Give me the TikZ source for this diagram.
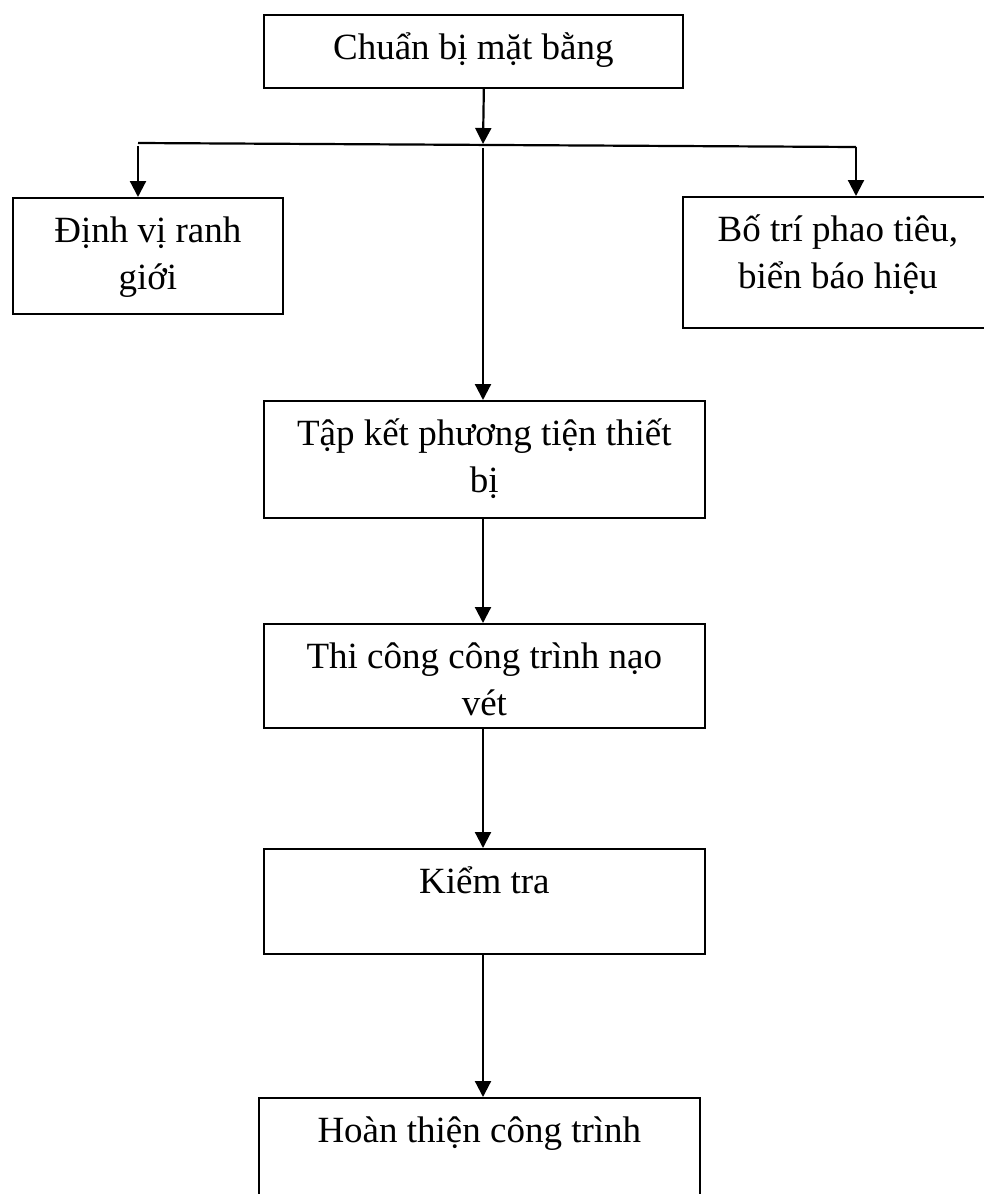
\documentclass[tikz,border=0pt]{standalone}
\usepackage{fontspec}
\setmainfont{Liberation Serif}
\usetikzlibrary{arrows.meta}

\newcommand{\steptext}[3]{\parbox[c][#2][t]{#1}{\centering\rule{0pt}{45pt}#3}}

\begin{document}
\begin{tikzpicture}[x=1pt, y=-1pt,
    stepbox/.style={draw, line width=1.7pt, inner sep=0pt, anchor=north west,
      font=\fontsize{37}{47}\selectfont},
    link/.style={-{Triangle[width=16pt,length=16pt]}, line width=2.2pt}]
  \clip (0,0) rectangle (984,1194);
  % the steps
  \node[stepbox] (cb) at (263,14) {\steptext{419pt}{73pt}{Chuẩn bị mặt bằng}};
  \node[stepbox] (dv) at (12,197) {\steptext{270pt}{116pt}{Định vị ranh\\giới}};
  \node[stepbox] (bt) at (682,196) {\steptext{310pt}{131pt}{Bố trí phao tiêu,\\biển báo hiệu}};
  \node[stepbox] (tk) at (263,400) {\steptext{441pt}{117pt}{Tập kết phương tiện thiết\\bị}};
  \node[stepbox] (tc) at (263,623) {\steptext{441pt}{104pt}{Thi công công trình nạo\\vét}};
  \node[stepbox] (kt) at (263,848) {\steptext{441pt}{105pt}{Kiểm tra}};
  \node[stepbox] (ht) at (258,1097) {\steptext{441pt}{133pt}{Hoàn thiện công trình}};
  % branching line
  \coordinate (hL) at (138,143);
  \coordinate (hM) at (483,144);
  \coordinate (hR) at (856,147);
  \draw[line width=2.2pt] (hL) -- (hR);
  \draw[link] ([xshift=10.5pt]cb.south) -- (hM);
  \draw[link] ([yshift=-3pt]hL) -- (dv.north -| hL);
  \draw[link] (hR) -- (bt.north -| hR);
  \draw[link] ([yshift=-4pt]hM) -- (tk.north -| hM);
  % the chain
  \draw[link] (tk.south -| hM) -- (tc.north -| hM);
  \draw[link] (tc.south -| hM) -- (kt.north -| hM);
  \draw[link] (kt.south -| hM) -- (ht.north -| hM);
\end{tikzpicture}
\end{document}
